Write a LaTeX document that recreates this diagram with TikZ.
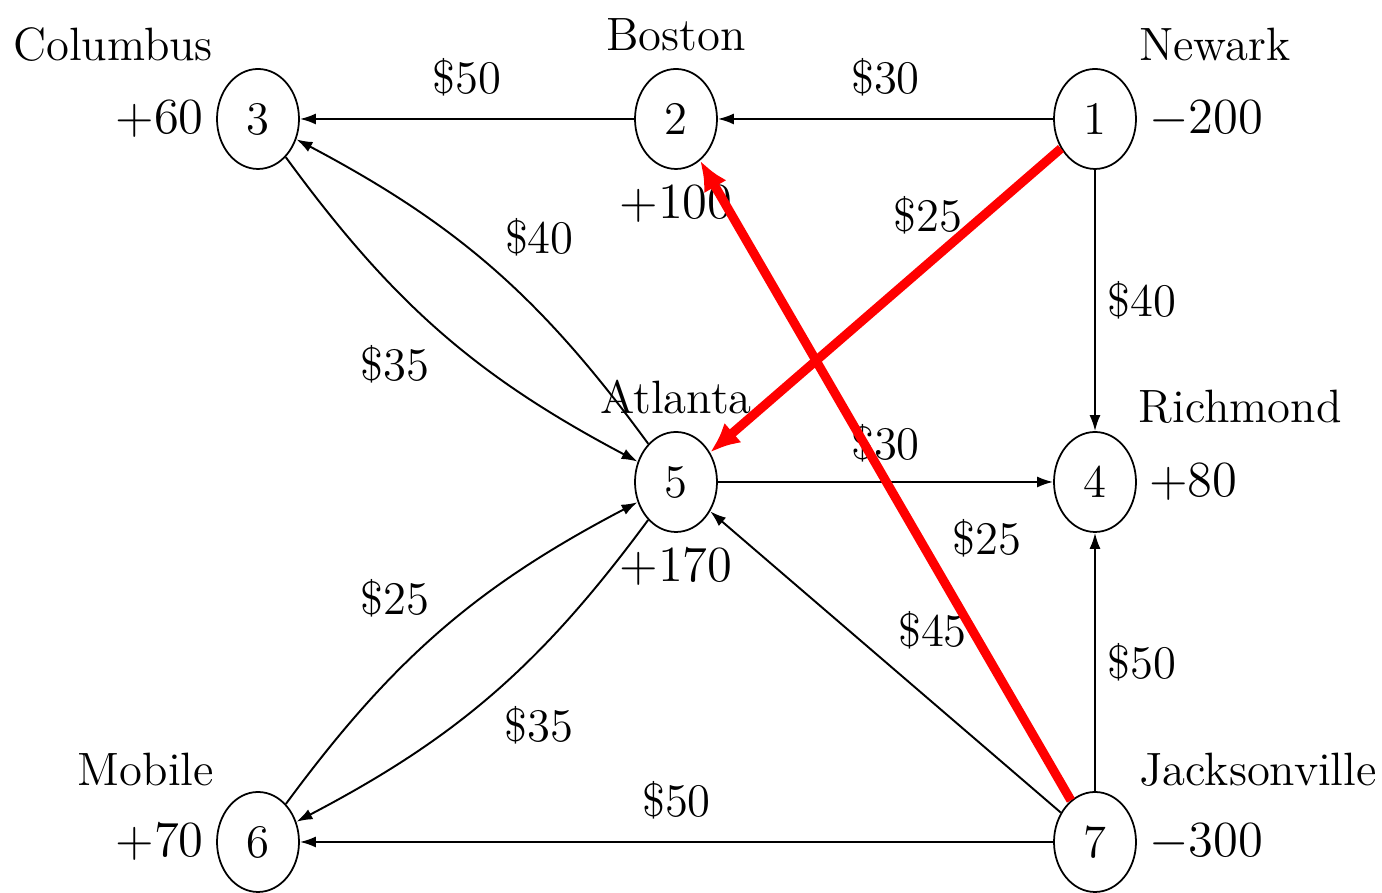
\documentclass[tikz,border=0pt]{standalone}
\usepackage{tikz}
\usetikzlibrary{positioning, arrows.meta, shapes.geometric}

\begin{document}
\begin{tikzpicture}[
        font=\fontsize{13.3}{16}\selectfont,
        city/.style={draw, ellipse, minimum width=0.82cm, minimum height=1.0cm, inner sep=0pt, line width=0.5pt},
        arr/.style={-{Latex[length=1.6mm, width=1.1mm]}, line width=0.55pt},
        chosen/.style={-{Latex[length=3mm, width=2.6mm]}, line width=2.6pt, red},
    ]
    \useasboundingbox (0,0) rectangle (13.82,8.93);

    % Cities
    \node[city] (n3) at (2.58,7.74) {3};
    \node[city] (n2) at (6.76,7.74) {2};
    \node[city] (n1) at (10.95,7.74) {1};
    \node[city] (n5) at (6.76,4.11) {5};
    \node[city] (n4) at (10.95,4.11) {4};
    \node[city] (n6) at (2.58,0.51) {6};
    \node[city] (n7) at (10.95,0.51) {7};

    % Names
    \node (columbus) at (1.13,8.48) {Columbus};
    \node (boston) at (6.76,8.58) {Boston};
    \node (newark) at (12.15,8.48) {Newark};
    \node (atlanta) at (6.76,4.96) {Atlanta};
    \node (richmond) at (12.40,4.86) {Richmond};
    \node (mobile) at (1.46,1.23) {Mobile};
    \node (jackson) at (12.58,1.23) {Jacksonville};

    % Supply and demand
    \node[left=0pt of n3] (b3) {$+60$};
    \node[below=0.04cm of n2] (b2) {$+100$};
    \node[right=0pt of n1] (b1) {$-200$};
    \node[below=0.04cm of n5] (b5) {$+170$};
    \node[right=0pt of n4] (b4) {$+80$};
    \node[left=0pt of n6] (b6) {$+70$};
    \node[right=0pt of n7] (b7) {$-300$};

    % Routes
    \draw[arr] (n2) -- node[above=3pt] {\$50} (n3);
    \draw[arr] (n1) -- node[above=3pt] {\$30} (n2);
    \draw[arr] (n1) -- node[right] {\$40} (n4);
    \draw[arr] (n5) -- node[above=2pt] {\$30} (n4);
    \draw[arr] (n7) -- node[right] {\$50} (n4);
    \draw[arr] (n7) -- node[above=3pt] {\$50} (n6);
    \draw[arr] (n7) -- node[above right] {\$45} (n5);
    \draw[arr] (n3) to[bend right=13] node[below left] {\$35} (n5);
    \draw[arr] (n5) to[bend right=13] node[above right] {\$40} (n3);
    \draw[arr] (n6) to[bend left=13] node[above left] {\$25} (n5);
    \draw[arr] (n5) to[bend left=13] node[below right] {\$35} (n6);

    % Highlighted routes
    \draw[chosen] (n1) -- node[pos=0.38, above=4pt, text=black] {\$25} (n5);
    \draw[chosen] (n7) -- node[pos=0.41, right=5pt, text=black] {\$25} (n2);

    \end{tikzpicture}
\end{document}
